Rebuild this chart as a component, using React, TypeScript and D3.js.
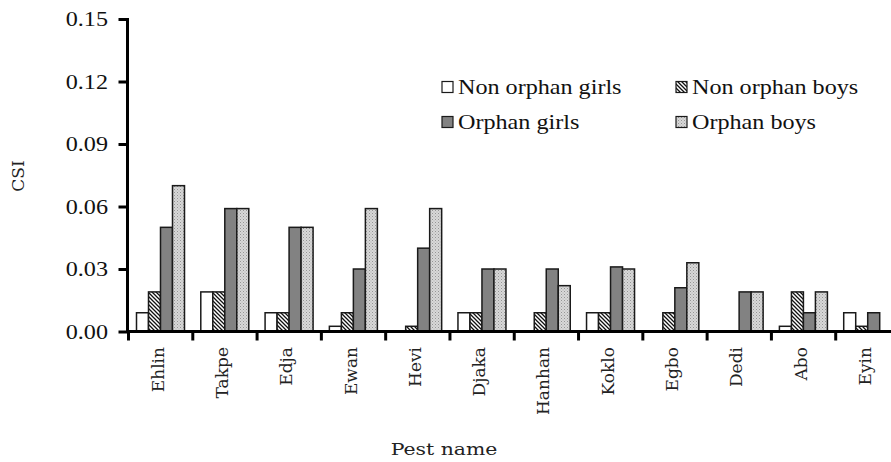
import React, { useEffect, useRef } from "react";
import * as d3 from "d3";

const categories = ["Ehlin", "Takpe", "Edja", "Ewan", "Hevi", "Djaka", "Hanhan", "Koklo", "Egbo", "Dedi", "Abo", "Eyin"];
const nonOrphanGirls = [0.009, 0.019, 0.009, 0.0025, 0, 0.009, 0, 0.009, 0, 0, 0.0025, 0.009];
const nonOrphanBoys = [0.019, 0.019, 0.009, 0.009, 0.0025, 0.009, 0.009, 0.009, 0.009, 0, 0.019, 0.0025];
const orphanGirls = [0.05, 0.059, 0.05, 0.03, 0.04, 0.03, 0.03, 0.031, 0.021, 0.019, 0.009, 0.009];
const orphanBoys = [0.07, 0.059, 0.05, 0.059, 0.059, 0.03, 0.022, 0.03, 0.033, 0.019, 0.019, 0];
const seriesNames = ["Non orphan girls", "Non orphan boys", "Orphan girls", "Orphan boys"];
const yTicks = [0, 0.03, 0.06, 0.09, 0.12, 0.15];

const fills = ["#ffffff", "url(#hatch)", "#828282", "url(#dots)"];

const App = () => {
  const ref = useRef<SVGSVGElement>(null);

  useEffect(() => {
    const svg = d3.select(ref.current);
    svg.selectAll("*").remove();

    const x0 = 127.5, x1 = 899, y0 = 331.5, y1 = 19;
    const serif = "'Liberation Serif', 'Times New Roman', 'DejaVu Serif'";
    const labelFont = "'DejaVu Serif'";
    const stretch = 1.15; // the source looks a bit wider than tall

    // patterns
    const defs = svg.append("defs");
    const hatch = defs.append("pattern").attr("id", "hatch").attr("patternUnits", "userSpaceOnUse")
      .attr("width", 4).attr("height", 4);
    hatch.append("rect").attr("width", 4).attr("height", 4).attr("fill", "#fff");
    hatch.append("path").attr("d", "M-1,-1 L5,5 M-1,3 L1,5 M3,-1 L5,1")
      .attr("stroke", "#111").attr("stroke-width", 1.3);
    const dots = defs.append("pattern").attr("id", "dots").attr("patternUnits", "userSpaceOnUse")
      .attr("width", 3).attr("height", 3);
    dots.append("rect").attr("width", 3).attr("height", 3).attr("fill", "#d8d8d8");
    dots.append("rect").attr("x", 0).attr("y", 0).attr("width", 1).attr("height", 1).attr("fill", "#959595");
    dots.append("rect").attr("x", 1.5).attr("y", 1.5).attr("width", 1).attr("height", 1).attr("fill", "#adadad");

    const x = d3.scaleBand().domain(categories).range([x0, x1]).padding(0);
    const inner = d3.scaleBand().domain(seriesNames).range([9, 57]).padding(0);
    const y = d3.scaleLinear().domain([0, 0.15]).range([y0, y1]);

    const data = [nonOrphanGirls, nonOrphanBoys, orphanGirls, orphanBoys];

    // bars
    categories.forEach((c, i) => {
      data.forEach((vals, s) => {
        const v = vals[i];
        if (!v) return;
        svg.append("rect")
          .attr("x", x(c)! + inner(seriesNames[s])!)
          .attr("y", y(v))
          .attr("width", inner.bandwidth())
          .attr("height", y(0) - y(v))
          .attr("fill", fills[s])
          .attr("stroke", "#1a1a1a")
          .attr("stroke-width", 1.5);
      });
    });

    // y axis
    const yAxis = svg.append("g").attr("transform", `translate(${x0},0)`)
      .call(d3.axisLeft(y).tickValues(yTicks).tickFormat(d3.format(".2f")).tickSize(9).tickPadding(8));
    yAxis.attr("font-family", null).attr("font-size", null);
    yAxis.select(".domain").attr("stroke-width", 3).attr("d", `M0,${y1 - 1}V${y0 + 1.5}`);
    yAxis.selectAll(".tick line").attr("stroke-width", 3);
    yAxis.selectAll(".tick text")
      .attr("transform", `scale(${stretch},1)`)
      .style("font-family", serif).style("font-size", "21px").attr("fill", "#111");

    // x axis
    svg.append("line").attr("x1", x0 - 1.5).attr("x2", 891).attr("y1", y0).attr("y2", y0)
      .attr("stroke", "#000").attr("stroke-width", 3);
    categories.forEach((c) => {
      svg.append("line").attr("x1", x(c)! + 1).attr("x2", x(c)! + 1).attr("y1", y0).attr("y2", y0 + 9)
        .attr("stroke", "#000").attr("stroke-width", 3);
      svg.append("text")
        .attr("transform", `translate(${x(c)! + x.bandwidth() / 2 + 4},${347}) rotate(-90)`)
        .attr("text-anchor", "end")
        .style("font-family", labelFont).style("font-size", "17px").attr("fill", "#222")
        .text(c);
    });

    // axis titles
    svg.append("text").attr("transform", "translate(24,176) rotate(-90)").attr("text-anchor", "middle")
      .style("font-family", labelFont).style("font-size", "17px").attr("fill", "#222").text("CSI");
    svg.append("text").attr("transform", `translate(444,455) scale(1.2,1)`).attr("text-anchor", "middle")
      .style("font-family", labelFont).style("font-size", "17px").attr("fill", "#222").text("Pest name");

    // legend
    const legendPos = [[442, 87], [676, 87], [442, 122], [676, 122]];
    seriesNames.forEach((name, s) => {
      const [lx, ly] = legendPos[s];
      svg.append("rect").attr("x", lx).attr("y", ly - 5.5).attr("width", 11).attr("height", 11)
        .attr("fill", fills[s]).attr("stroke", "#1a1a1a").attr("stroke-width", 1.2);
      svg.append("text").attr("transform", `translate(${lx + 16},${ly + 7}) scale(${stretch},1)`)
        .style("font-family", serif).style("font-size", "21px").attr("fill", "#111").text(name);
    });
  }, []);

  return (
    <svg ref={ref} width={891} height={462} viewBox="0 0 891 462"
      style={{ position: "absolute", left: 0, top: 0, background: "#fff" }} />
  );
};

export default App;
